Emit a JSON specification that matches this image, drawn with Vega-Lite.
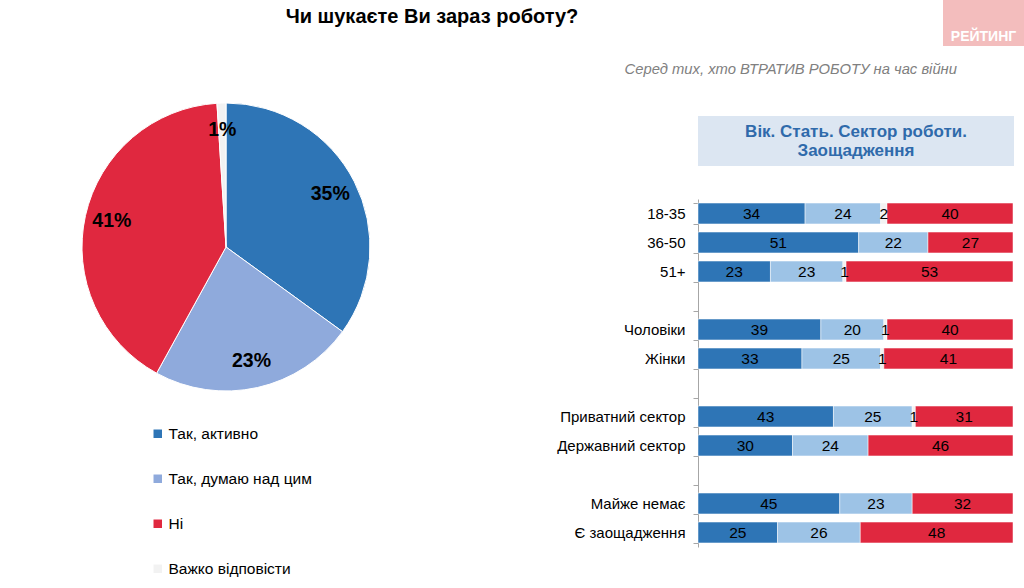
{
  "$schema": "https://vega.github.io/schema/vega-lite/v6.json",
  "padding": 0,
  "background": "white",
  "config": {"view": {"stroke": null}, "font": "Liberation Sans"},
  "spacing": 16,
  "vconcat": [
    {
      "spacing": 79,
      "hconcat": [
        {
          "width": 864, "height": 34,
          "data": {"values": [{"t": "Чи шукаєте Ви зараз роботу?"}]},
          "mark": {"type": "text", "fontSize": 20, "fontWeight": "bold", "color": "black", "baseline": "middle"},
          "encoding": {"text": {"field": "t", "type": "nominal"}}
        },
        {
          "width": 81, "height": 46,
          "view": {"fill": "#F3BDBD", "stroke": null},
          "data": {"values": [{"t": "РЕЙТИНГ"}]},
          "mark": {"type": "text", "fontSize": 14, "fontWeight": "bold", "color": "white", "baseline": "middle", "dy": 14},
          "encoding": {"text": {"field": "t", "type": "nominal"}}
        }
      ]
    },
    {
      "spacing": 104,
      "resolve": {"scale": {"color": "independent"}, "legend": {"color": "independent"}},
      "hconcat": [
        {
          "width": 452, "height": 262,
          "data": {"values": [
            {"ans": "Так, активно", "v": 35, "label": "35%", "k": 1},
            {"ans": "Так, думаю над цим", "v": 23, "label": "23%", "k": 2},
            {"ans": "Ні", "v": 41, "label": "41%", "k": 3},
            {"ans": "Важко відповісти", "v": 1, "label": "1%", "k": 4}
          ]},
          "encoding": {
            "theta": {"field": "v", "type": "quantitative", "stack": true},
            "order": {"field": "k", "type": "quantitative"}
          },
          "layer": [
            {
              "mark": {"type": "arc", "outerRadius": 144, "stroke": "white", "strokeWidth": 1},
              "encoding": {
                "color": {
                  "field": "ans", "type": "nominal",
                  "scale": {"domain": ["Так, активно", "Так, думаю над цим", "Ні", "Важко відповісти"], "range": ["#2E75B6", "#8FAADC", "#E0283F", "#F2F2F2"]},
                  "legend": {"orient": "none", "legendX": 150, "legendY": 310, "title": null, "symbolType": "square", "symbolSize": 72, "symbolStrokeWidth": 0, "labelFontSize": 15.5, "labelColor": "black", "rowPadding": 28, "padding": 0, "labelOffset": 3}
                }
              }
            },
            {
              "mark": {"type": "text", "radius": 117, "fontSize": 19.5, "fontWeight": "bold", "color": "black"},
              "encoding": {"text": {"field": "label", "type": "nominal"}}
            }
          ]
        },
        {
          "spacing": 33,
          "bounds": "flush",
          "vconcat": [
            {
              "width": 316, "height": 50,
              "view": {"fill": "#DCE6F2", "stroke": null},
              "title": {"text": "Серед тих, хто ВТРАТИВ РОБОТУ на час війни", "anchor": "end", "dx": -57, "fontSize": 14.8, "fontStyle": "italic", "fontWeight": "normal", "color": "#808080", "offset": 39},
              "data": {"values": [{"t": "Вік. Стать. Сектор роботи.\nЗаощадження"}]},
              "mark": {"type": "text", "fontSize": 17, "fontWeight": "bold", "color": "#2F6AAB", "lineHeight": 19, "lineBreak": "\n", "baseline": "middle", "dy": -9},
              "encoding": {"text": {"field": "t", "type": "nominal"}}
            },
            {
              "width": 315, "height": 348,
              "data": {"values": [
                {"g": "18-35", "ans": "Так, активно", "k": 1, "v": 34},
                {"g": "18-35", "ans": "Так, думаю над цим", "k": 2, "v": 24},
                {"g": "18-35", "ans": "Важко відповісти", "k": 3, "v": 2},
                {"g": "18-35", "ans": "Ні", "k": 4, "v": 40},
                {"g": "36-50", "ans": "Так, активно", "k": 1, "v": 51},
                {"g": "36-50", "ans": "Так, думаю над цим", "k": 2, "v": 22},
                {"g": "36-50", "ans": "Ні", "k": 4, "v": 27},
                {"g": "51+", "ans": "Так, активно", "k": 1, "v": 23},
                {"g": "51+", "ans": "Так, думаю над цим", "k": 2, "v": 23},
                {"g": "51+", "ans": "Важко відповісти", "k": 3, "v": 1},
                {"g": "51+", "ans": "Ні", "k": 4, "v": 53},
                {"g": "Чоловіки", "ans": "Так, активно", "k": 1, "v": 39},
                {"g": "Чоловіки", "ans": "Так, думаю над цим", "k": 2, "v": 20},
                {"g": "Чоловіки", "ans": "Важко відповісти", "k": 3, "v": 1},
                {"g": "Чоловіки", "ans": "Ні", "k": 4, "v": 40},
                {"g": "Жінки", "ans": "Так, активно", "k": 1, "v": 33},
                {"g": "Жінки", "ans": "Так, думаю над цим", "k": 2, "v": 25},
                {"g": "Жінки", "ans": "Важко відповісти", "k": 3, "v": 1},
                {"g": "Жінки", "ans": "Ні", "k": 4, "v": 41},
                {"g": "Приватний сектор", "ans": "Так, активно", "k": 1, "v": 43},
                {"g": "Приватний сектор", "ans": "Так, думаю над цим", "k": 2, "v": 25},
                {"g": "Приватний сектор", "ans": "Важко відповісти", "k": 3, "v": 1},
                {"g": "Приватний сектор", "ans": "Ні", "k": 4, "v": 31},
                {"g": "Державний сектор", "ans": "Так, активно", "k": 1, "v": 30},
                {"g": "Державний сектор", "ans": "Так, думаю над цим", "k": 2, "v": 24},
                {"g": "Державний сектор", "ans": "Ні", "k": 4, "v": 46},
                {"g": "Майже немає", "ans": "Так, активно", "k": 1, "v": 45},
                {"g": "Майже немає", "ans": "Так, думаю над цим", "k": 2, "v": 23},
                {"g": "Майже немає", "ans": "Ні", "k": 4, "v": 32},
                {"g": "Є заощадження", "ans": "Так, активно", "k": 1, "v": 25},
                {"g": "Є заощадження", "ans": "Так, думаю над цим", "k": 2, "v": 26},
                {"g": "Є заощадження", "ans": "Ні", "k": 4, "v": 48}
              ]},
              "encoding": {
                "y": {
                  "field": "g", "type": "nominal",
                  "scale": {"domain": ["18-35", "36-50", "51+", " ", "Чоловіки", "Жінки", "  ", "Приватний сектор", "Державний сектор", "   ", "Майже немає", "Є заощадження"], "paddingInner": 0.28, "paddingOuter": 0.14},
                  "axis": {"title": null, "labelFontSize": 15, "labelColor": "black", "domainColor": "#A6A6A6", "tickColor": "#A6A6A6", "tickSize": 5, "tickBand": "extent", "labelPadding": 8}
                },
                "x": {"field": "v", "type": "quantitative", "stack": "normalize", "axis": null},
                "order": {"field": "k", "type": "quantitative"}
              },
              "layer": [
                {
                  "mark": {"type": "bar", "stroke": "white", "strokeWidth": 0.5},
                  "encoding": {
                    "color": {
                      "field": "ans", "type": "nominal",
                      "scale": {"domain": ["Так, активно", "Так, думаю над цим", "Важко відповісти", "Ні"], "range": ["#2E75B6", "#9DC3E6", "#F2F2F2", "#E0283F"]},
                      "legend": null
                    }
                  }
                },
                {
                  "mark": {"type": "text", "fontSize": 15.5, "color": "black"},
                  "encoding": {
                    "x": {"field": "v", "type": "quantitative", "stack": "normalize", "bandPosition": 0.5, "axis": null},
                    "text": {"field": "v", "type": "quantitative"}
                  }
                }
              ]
            }
          ]
        }
      ]
    }
  ]
}
